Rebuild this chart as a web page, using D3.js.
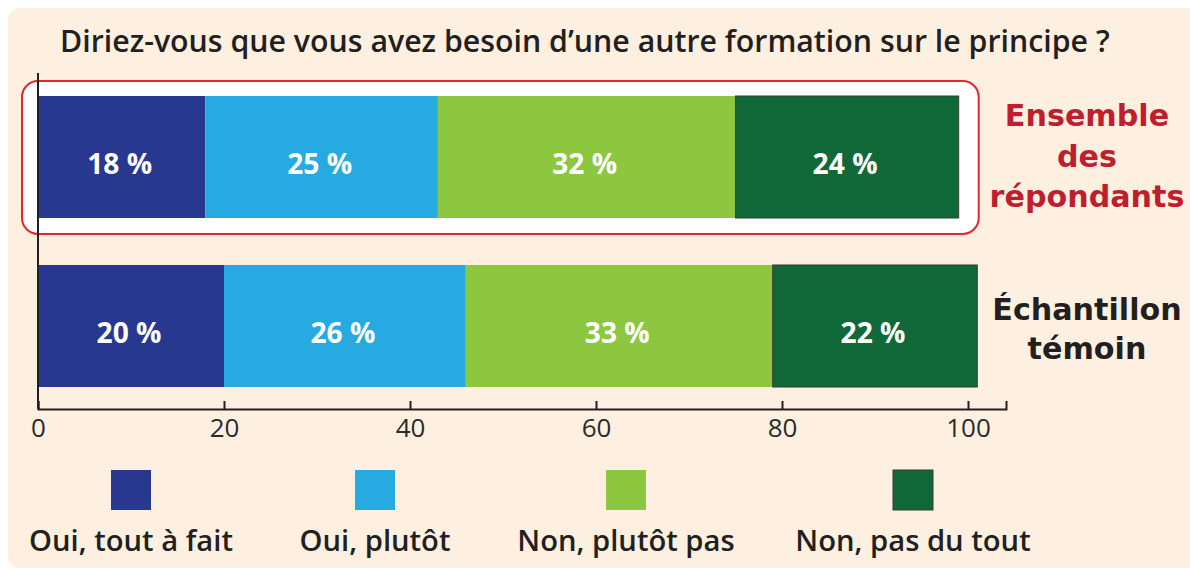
<!DOCTYPE html>
<html><head><meta charset="utf-8">
<script src="https://cdn.jsdelivr.net/npm/d3@7"></script>
<style>html,body{margin:0;padding:0;background:#fff;}svg{display:block;}</style>
</head><body>
<svg id="chart" width="1190" height="569"></svg>
<script>
// ---- data ----
const title = "Diriez-vous que vous avez besoin d\u2019une autre formation sur le principe ?";
const categories = ["Ensemble des répondants", "Échantillon témoin"];
const categoryLines = [["Ensemble", "des", "répondants"], ["Échantillon", "témoin"]];
const seriesNames = ["Oui, tout à fait", "Oui, plutôt", "Non, plutôt pas", "Non, pas du tout"];
const ouiToutAFait = [18, 20];
const ouiPlutot = [25, 26];
const nonPlutotPas = [32, 33];
const nonPasDuTout = [24, 22];
const xTicks = [0, 20, 40, 60, 80, 100];
const seriesColors = ["#283891", "#27aae1", "#8dc63f", "#116838"];

// ---- layout ----
const W = 1190, H = 569;
const FONT = "'Open Sans', 'DejaVu Sans', sans-serif";
const WIDE = "'DejaVu Sans', 'Open Sans', sans-serif";
const TEXT = "#231f20";
const legendCenters = [131, 375, 626, 913];

const svg = d3.select("#chart");
svg.append("rect").attr("x", 0).attr("y", 0).attr("width", W).attr("height", H).attr("fill", "#ffffff");
svg.append("rect").attr("x", 8).attr("y", 8).attr("width", W + 20).attr("height", 560).attr("rx", 12).attr("fill", "#fdf0e1");

const x = d3.scaleLinear().domain([0, 100]).range([38, 968]);
const y = d3.scaleBand().domain(categories).range([96, 387]).paddingInner(0.278).paddingOuter(0);

const seriesValues = [ouiToutAFait, ouiPlutot, nonPlutotPas, nonPasDuTout];
const rows = categories.map((c, i) => {
  const o = {category: c};
  seriesNames.forEach((s, j) => o[s] = seriesValues[j][i]);
  return o;
});
const stack = d3.stack().keys(seriesNames)(rows);

// red highlight box around first category
const firstTotal = d3.sum(seriesValues, v => v[0]);
svg.append("rect")
  .attr("x", x(0) - 16).attr("y", y(categories[0]) - 15)
  .attr("width", x(firstTotal) - x(0) + 36).attr("height", y.bandwidth() + 31)
  .attr("rx", 16).attr("fill", "#ffffff").attr("stroke", "#e8242b").attr("stroke-width", 2);

// bars
const g = svg.append("g");
stack.forEach((layer, j) => {
  g.selectAll(null).data(layer).join("rect")
    .attr("x", d => x(d[0]))
    .attr("y", d => y(d.data.category))
    .attr("width", d => x(d[1]) - x(d[0]))
    .attr("height", y.bandwidth())
    .attr("fill", seriesColors[j])
    .attr("stroke", j === 3 ? "#3a3a3a" : "none")
    .attr("stroke-width", j === 3 ? 1 : 0);
});

// value labels
const valueLabels = [];
stack.forEach((layer, j) => {
  layer.forEach(d => {
    const t = svg.append("text")
      .attr("x", (x(d[0]) + x(d[1])) / 2 - 2)
      .attr("y", y(d.data.category) + y.bandwidth() / 2 + 17)
      .attr("text-anchor", "middle")
      .attr("font-family", FONT).attr("font-weight", 700).attr("font-size", 28)
      .attr("fill", "#ffffff")
      .text((d[1] - d[0]) + " %");
    valueLabels.push(t);
  });
});

// axis
const xAxisScale = d3.scaleLinear().domain([0, 100 * (1006 - 38) / 930]).range([38, 1006]);
const axisG = svg.append("g").attr("transform", "translate(0,409)")
  .call(d3.axisBottom(xAxisScale).tickValues(xTicks).tickSize(-8).tickSizeOuter(-8).tickPadding(10));
axisG.selectAll("path,line").attr("stroke", TEXT).attr("stroke-width", 2);
axisG.selectAll("text").attr("font-family", FONT).attr("font-size", 26).attr("font-weight", 400).attr("fill", "#2b2b2b");
// vertical axis
svg.append("line").attr("x1", 38).attr("x2", 38).attr("y1", 73).attr("y2", 409)
  .attr("stroke", TEXT).attr("stroke-width", 2);

// title
const titleT = svg.append("text").attr("x", 60).attr("y", 52)
  .attr("font-family", FONT).attr("font-weight", 600).attr("font-size", 24).attr("fill", TEXT)
  .text(title);

// category labels on the right
const catColors = ["#be1e2d", TEXT];
const catBaselines = [[126, 167, 207], [320, 359]];
const catTexts = [];
categoryLines.forEach((lines, i) => {
  lines.forEach((ln, k) => {
    const t = svg.append("text").attr("x", 1087).attr("y", catBaselines[i][k])
      .attr("text-anchor", "middle")
      .attr("font-family", WIDE).attr("font-weight", 700).attr("font-size", 28)
      .attr("fill", catColors[i]).text(ln);
    catTexts.push(t);
  });
});

// legend
const legTexts = [];
seriesNames.forEach((s, j) => {
  svg.append("rect").attr("x", legendCenters[j] - 20).attr("y", 470).attr("width", 40).attr("height", 40)
    .attr("fill", seriesColors[j]).attr("stroke", j === 3 ? "#3a3a3a" : "none").attr("stroke-width", j === 3 ? 1 : 0);
  const t = svg.append("text").attr("x", legendCenters[j]).attr("y", 551)
    .attr("text-anchor", "middle")
    .attr("font-family", FONT).attr("font-weight", 600).attr("font-size", 26)
    .attr("fill", TEXT).text(s);
  legTexts.push(t);
});

// fit font sizes to the reference widths
function fitGroup(refSel, targetW, group, maxSize) {
  const w = refSel.node().getComputedTextLength();
  const f = targetW / w;
  group.forEach(s => {
    let fs = parseFloat(s.attr("font-size")) * f;
    if (maxSize) fs = Math.min(fs, maxSize);
    s.attr("font-size", fs);
  });
}
fitGroup(titleT, 1050, [titleT]);
fitGroup(valueLabels[0], 65, valueLabels);
fitGroup(catTexts[2], 195, catTexts, 31);
fitGroup(legTexts[0], 204, legTexts);
</script>
</body></html>
